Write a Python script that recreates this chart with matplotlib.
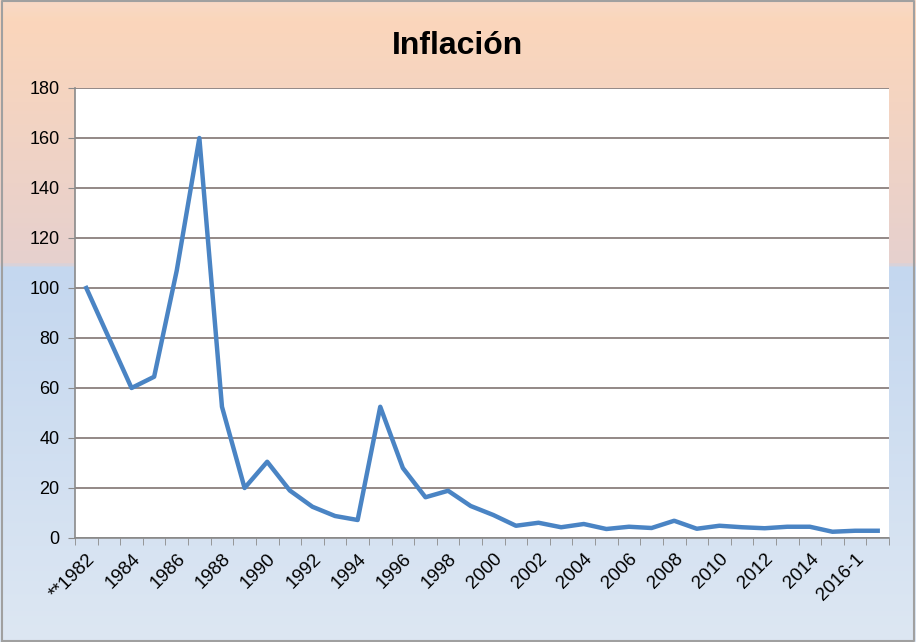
import numpy as np
import matplotlib.pyplot as plt
from matplotlib.colors import LinearSegmentedColormap

years = [str(y) for y in range(1982, 2016)] + ['2016-1', '2016-2']
years[0] = '**1982'
inflacion = [100, 80, 60, 64.5, 107, 160, 52.5, 20, 30.5, 19, 12.5, 8.8, 7.2,
             52.5, 28, 16.3, 18.9, 12.8, 9.2, 4.9, 6.1, 4.3, 5.6, 3.6, 4.5,
             4.0, 6.9, 3.7, 4.9, 4.3, 3.9, 4.5, 4.5, 2.5, 2.9, 2.9]
title = 'Inflación'

fig = plt.figure(figsize=(9.16, 6.42), dpi=100)

# gradient background, peach on top and light blue below
bg = fig.add_axes([0, 0, 1, 1], zorder=-1)
cmap = LinearSegmentedColormap.from_list('bg', [
    (0.0, '#f8d9c6'), (0.03, '#fbd6bb'), (0.41, '#e6d0ce'),
    (0.415, '#c4d7ef'), (1.0, '#dde7f3')])
grad = np.linspace(0, 1, 400).reshape(-1, 1)
bg.imshow(grad, aspect='auto', cmap=cmap, extent=[0, 1, 0, 1], origin='upper')
bg.set_xlim(0, 1)
bg.set_ylim(0, 1)
bg.axis('off')
bg.plot([0.002, 0.998, 0.998, 0.002, 0.002], [0.002, 0.002, 0.998, 0.998, 0.002],
        color='#a0a0a0', lw=1.5)

ax = fig.add_axes([75 / 916, 104 / 642, 814 / 916, 450 / 642])
ax.set_facecolor('white')
x = np.arange(len(years))
ax.plot(x, inflacion, color='#4a84c4', lw=3.2, solid_joinstyle='round', zorder=3)

ax.set_xlim(-0.5, len(years) - 0.5)
ax.set_ylim(0, 180)
ax.set_yticks(range(0, 181, 20))
ax.grid(axis='y', color='#8a7f7d', lw=1.3)
ax.set_axisbelow(True)

fam = ['Liberation Sans Narrow', 'Liberation Sans']
ax.set_xticks(x[::2])
ax.set_xticklabels(years[::2], rotation=45, ha='right', rotation_mode='anchor',
                   fontsize=13.5, family=fam)
ax.set_xticks(np.arange(-0.5, len(years)), minor=True)
ax.tick_params(axis='x', which='major', length=0, pad=9)
ax.tick_params(axis='x', which='minor', length=5, color='#8a8a8a')
ax.tick_params(axis='y', length=5, color='#8a8a8a', labelsize=13, pad=6)
for lab in ax.get_yticklabels():
    lab.set_family(fam)

for s in ['top', 'right']:
    ax.spines[s].set_visible(False)
for s in ['left', 'bottom']:
    ax.spines[s].set_color('#8a8a8a')
    ax.spines[s].set_linewidth(1.2)

fig.text(0.5, 0.928, title, ha='center', va='center', fontsize=23, fontweight='bold',
         family=fam)

fig.savefig('out.png', dpi=100)
